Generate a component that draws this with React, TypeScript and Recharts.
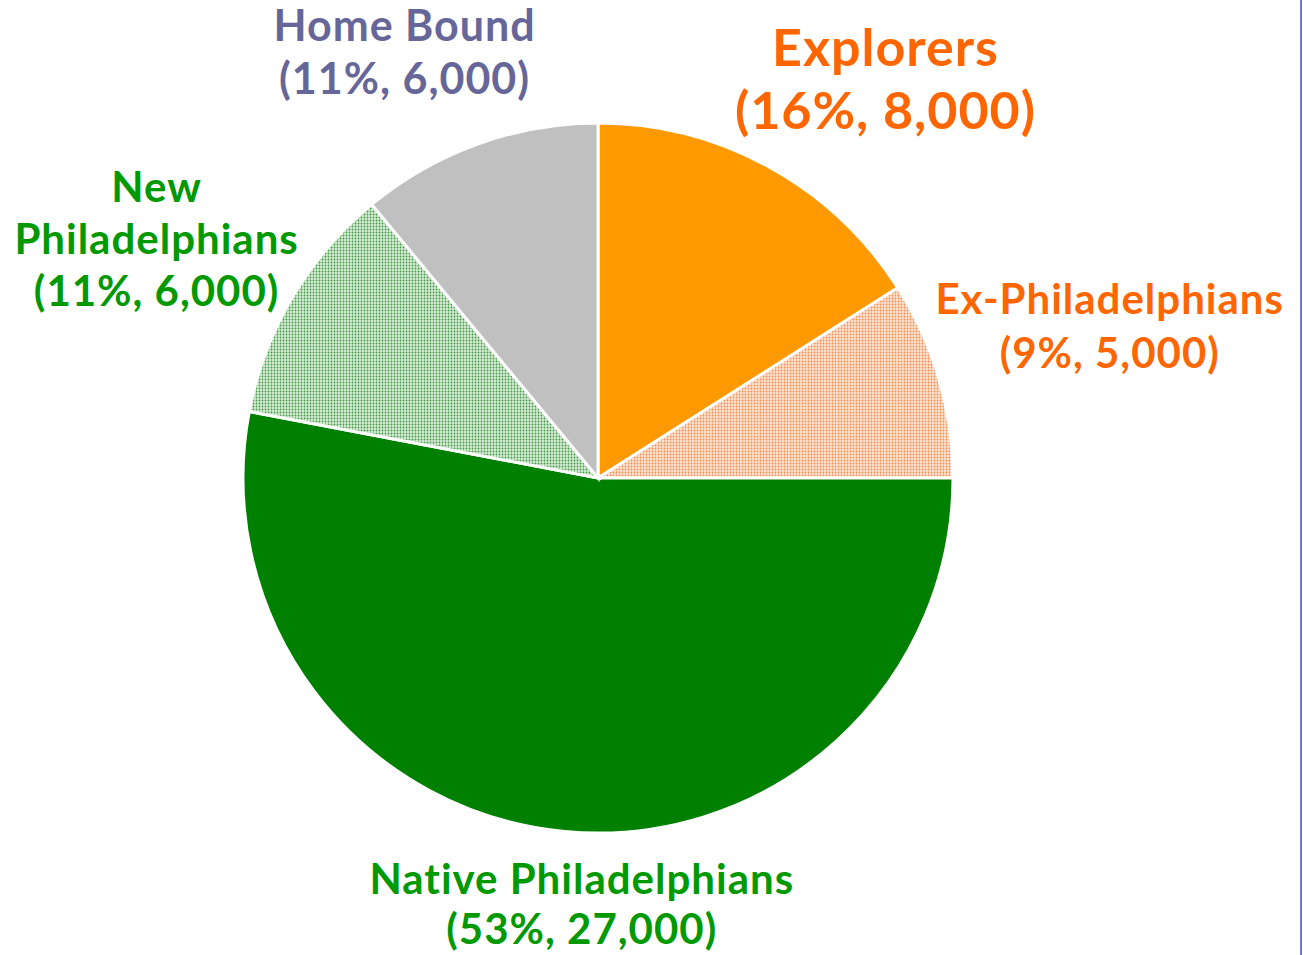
import { Cell, Pie, PieChart } from 'recharts'

const names = ['Explorers', 'Ex-Philadelphians', 'Native Philadelphians', 'New Philadelphians', 'Home Bound']
const nameLines = [['Explorers'], ['Ex-Philadelphians'], ['Native Philadelphians'], ['New', 'Philadelphians'], ['Home Bound']]
const percents = [16, 9, 53, 11, 11]
const counts = [8000, 5000, 27000, 6000, 6000]

const fills = ['#ff9900', 'url(#dotsOrange)', '#008000', 'url(#dotsGreen)', '#c0c0c0']
const textColors = ['#ff6600', '#ff6600', '#009900', '#009900', '#666699']
const fontSizes = [52, 42, 42, 42, 43]
const lineHeights = [63, 54, 50, 52, 53]
// nudges from the default radial label point
const labelShift = [
  [102, -63],
  [142, -46],
  [20, 42],
  [-110, -44],
  [-63, -65],
]

const data = names.map((name, i) => ({ name, value: percents[i], count: counts[i] }))

const RADIAN = Math.PI / 180

function renderLabel(props: any) {
  const { cx, cy, midAngle, outerRadius, index } = props
  const r = outerRadius + 30
  const x = cx + r * Math.cos(-midAngle * RADIAN) + labelShift[index][0]
  const y = cy + r * Math.sin(-midAngle * RADIAN) + labelShift[index][1]
  const lines = [...nameLines[index], `(${percents[index]}%, ${counts[index].toLocaleString('en-US')})`]
  const lh = lineHeights[index]
  const top = y - ((lines.length - 1) * lh) / 2
  return (
    <text
      key={index}
      x={x}
      y={top}
      textAnchor="middle"
      dominantBaseline="central"
      fill={textColors[index]}
      fontSize={fontSizes[index]}
      fontWeight={700}
      letterSpacing={1}
      fontFamily="Lato, 'Open Sans', sans-serif"
      style={{ fontVariantLigatures: 'none' }}
    >
      {lines.map((line, j) => (
        <tspan key={j} x={x} dy={j === 0 ? 0 : lh}>
          {line}
        </tspan>
      ))}
    </text>
  )
}

export default function App() {
  return (
    <div style={{ width: 1303, height: 955, position: 'relative', background: '#fff' }}>
      <style>{'body{margin:0}'}</style>
      <PieChart width={1303} height={955} margin={{ top: 0, right: 0, bottom: 0, left: 0 }}>
        <defs>
          <pattern id="dotsOrange" width="3" height="3" patternUnits="userSpaceOnUse">
            <rect width="3" height="3" fill="#fde3d2" />
            <circle cx="1.5" cy="1.5" r="0.9" fill="#f58a4a" />
          </pattern>
          <pattern id="dotsGreen" width="3" height="3" patternUnits="userSpaceOnUse">
            <rect width="3" height="3" fill="#d6ead6" />
            <circle cx="1.5" cy="1.5" r="0.9" fill="#3f9a3f" />
          </pattern>
        </defs>
        <Pie
          data={data}
          dataKey="value"
          nameKey="name"
          cx={598}
          cy={478}
          outerRadius={355}
          startAngle={90}
          endAngle={-270}
          stroke="#fff"
          strokeWidth={3}
          label={renderLabel}
          labelLine={false}
          isAnimationActive={false}
        >
          {data.map((d, i) => (
            <Cell key={d.name} fill={fills[i]} />
          ))}
        </Pie>
      </PieChart>
      <div style={{ position: 'absolute', top: 0, right: 1, width: 2, height: 955, background: '#6a7bd0' }} />
    </div>
  )
}
